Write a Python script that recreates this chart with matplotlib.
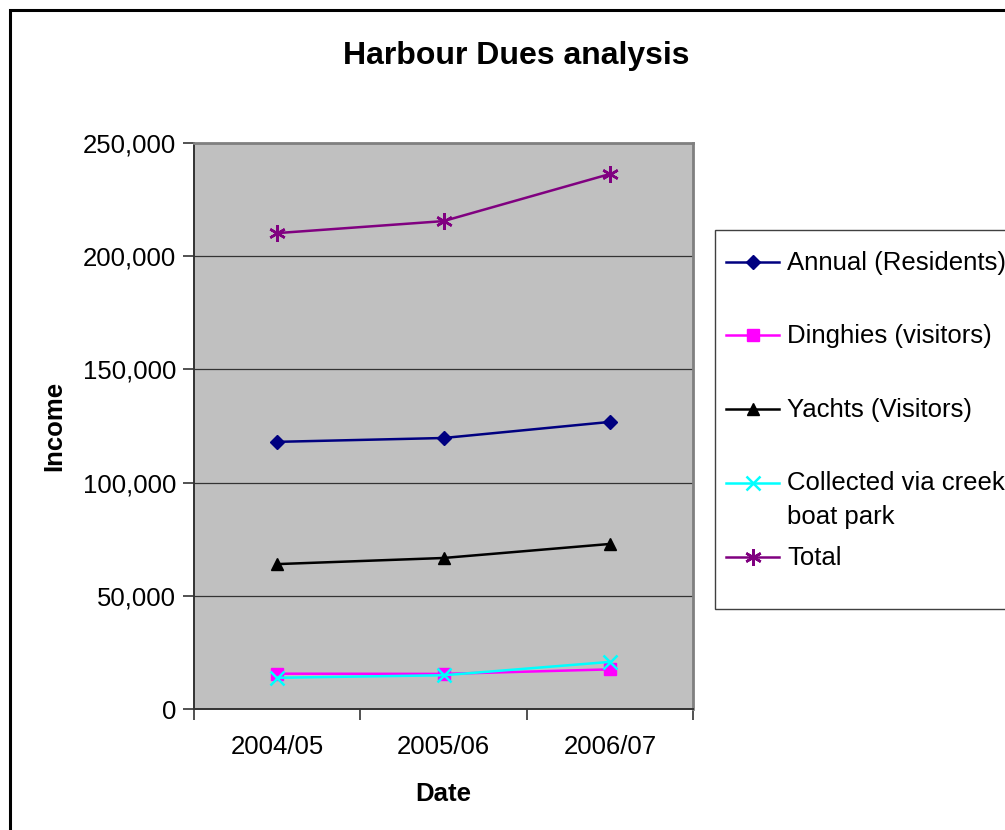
import matplotlib
matplotlib.use("Agg")
import matplotlib.pyplot as plt
from matplotlib.lines import Line2D
from matplotlib.patches import Rectangle
from matplotlib.ticker import FuncFormatter, FixedLocator

plt.rcParams['font.family'] = ['Liberation Sans', 'DejaVu Sans']

categories = ["2004/05", "2005/06", "2006/07"]
annual = [118000, 119700, 126800]
dinghies = [15600, 15500, 17500]
yachts = [64000, 66700, 72900]
collected = [13800, 14900, 20800]
total = [210200, 215500, 236300]

series = [
    ("Annual (Residents)", annual, "#000080", "D", 7, "#000080"),
    ("Dinghies (visitors)", dinghies, "#FF00FF", "s", 8, "#FF00FF"),
    ("Yachts (Visitors)", yachts, "#000000", "^", 9, "#000000"),
    ("Collected via creek\nboat park", collected, "#00FFFF", "x", 10, "#00FFFF"),
    ("Total", total, "#800080", (6, 2, 0), 12, "#800080"),
]

FS = 18.5
W, H = 1005, 830
fig = plt.figure(figsize=(W / 100, H / 100), dpi=100)
fig.patch.set_facecolor("white")

# chart border
fig.add_artist(Rectangle((10 / W, 0 - 0.01), (1030 - 10) / W, (H - 10) / H + 0.01,
                         transform=fig.transFigure, fill=False, edgecolor="black",
                         linewidth=2.2, clip_on=False))

left, right, top, bottom = 194, 693, 143, 709
ax = fig.add_axes([left / W, 1 - bottom / H, (right - left) / W, (bottom - top) / H])
ax.set_facecolor("#C0C0C0")

def mew(marker):
    return 1.8 if marker in ("x", (6, 2, 0)) else 1

x = [i + 0.5 for i in range(len(categories))]
for label, vals, color, marker, ms, mfc in series:
    ax.plot(x, vals, color=color, linewidth=1.8, marker=marker, markersize=ms,
            markerfacecolor=mfc, markeredgecolor=color, markeredgewidth=mew(marker),
            zorder=3)

ax.set_xlim(0, 3)
ax.set_ylim(0, 250000)
ax.set_yticks(range(0, 250001, 50000))
ax.yaxis.set_major_formatter(FuncFormatter(lambda v, p: f"{int(v):,}"))
ax.xaxis.set_major_locator(FixedLocator([0, 1, 2, 3]))
ax.xaxis.set_minor_locator(FixedLocator(x))
ax.set_xticklabels([])
ax.set_xticklabels(categories, minor=True)
ax.tick_params(axis="x", which="minor", length=0, labelsize=FS, pad=19)
ax.tick_params(axis="x", which="major", length=8, width=1.2, color="#333333", direction="out")
ax.tick_params(axis="y", length=8, width=1.2, color="#333333", labelsize=FS, pad=5)
ax.grid(axis="y", color="#333333", linewidth=0.9, zorder=1)
ax.set_axisbelow(True)

for s in ("top", "right"):
    ax.spines[s].set_color("#808080")
    ax.spines[s].set_linewidth(2.0)
for s in ("left", "bottom"):
    ax.spines[s].set_color("#333333")
    ax.spines[s].set_linewidth(1.4)

ax.set_xlabel("Date", fontsize=FS, fontweight="bold", labelpad=16)
ax.set_ylabel("Income", fontsize=FS, fontweight="bold", labelpad=12)

fig.text(516 / W, 1 - 56 / H, "Harbour Dues analysis", ha="center", va="center",
         fontsize=23, fontweight="bold")

# legend drawn manually
lx0, ly0, lx1, ly1 = 715, 230, 1030, 609
fig.add_artist(Rectangle((lx0 / W, 1 - ly1 / H), (lx1 - lx0) / W, (ly1 - ly0) / H,
                         transform=fig.transFigure, facecolor="white", edgecolor="#404040",
                         linewidth=1.0, clip_on=False))
ys = [262, 335, 409, 483, 557]
for (label, vals, color, marker, ms, mfc), yy in zip(series, ys):
    yf = 1 - yy / H
    fig.add_artist(Line2D([726 / W, 779 / W], [yf, yf], transform=fig.transFigure,
                          color=color, linewidth=1.8))
    fig.add_artist(Line2D([752.5 / W], [yf], transform=fig.transFigure, color=color,
                          marker=marker, markersize=ms, markerfacecolor=mfc, markeredgecolor=color,
                          markeredgewidth=mew(marker), linestyle="none"))
    if "\n" in label:
        fig.text(787 / W, 1 - (yy - 12) / H, label, ha="left", va="top", fontsize=FS,
                 linespacing=1.55)
    else:
        fig.text(787 / W, 1 - (yy + 1) / H, label, ha="left", va="center", fontsize=FS)

fig.savefig("out.png", dpi=100)
